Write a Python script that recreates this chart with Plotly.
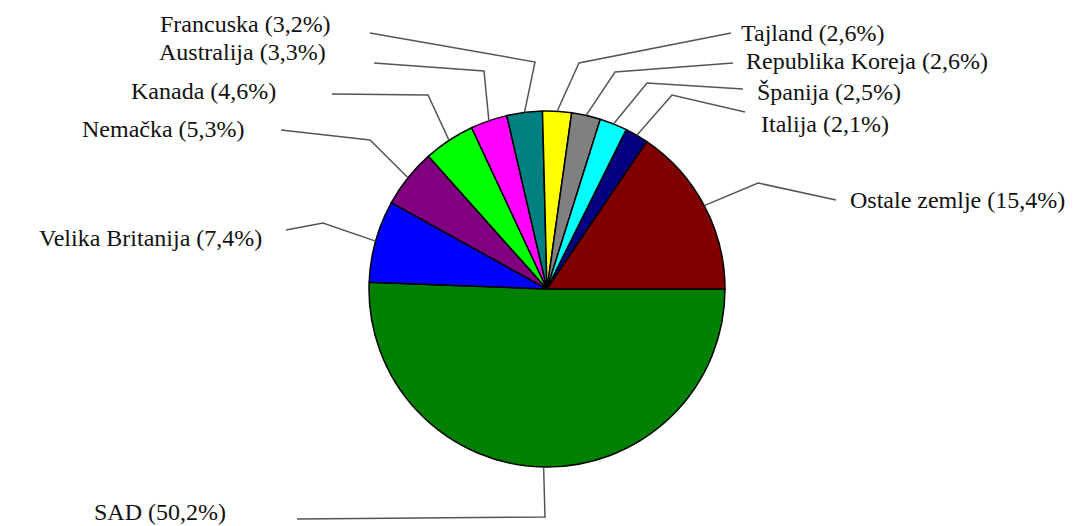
import math
import plotly.graph_objects as go

labels = ['SAD', 'Velika Britanija', 'Nemačka', 'Kanada', 'Australija', 'Francuska',
          'Tajland', 'Republika Koreja', 'Španija', 'Italija', 'Ostale zemlje']
shares = [50.2, 7.4, 5.3, 4.6, 3.3, 3.2, 2.6, 2.6, 2.5, 2.1, 15.4]
colors = ['#008000', '#0000FF', '#800080', '#00FF00', '#FF00FF', '#008080',
          '#FFFF00', '#808080', '#00FFFF', '#000080', '#800000']

W, H = 1091, 526
cx, cy, R = 547, 289, 178   # pie centre / radius in pixels
rot = 90                    # first slice starts at 3 o'clock

# leader line layout (pixels): elbow, line end, text anchor point, side
leaders = {
    'SAD':              ((545, 517), (297, 519), (228, 512), 'right'),
    'Velika Britanija': ((323, 223), (286, 230), (264, 238), 'right'),
    'Nemačka':          ((370, 140), (281, 130), (247, 129), 'right'),
    'Kanada':           ((428, 95), (332, 94), (278, 91), 'right'),
    'Australija':       ((484, 71), (374, 63), (328, 52), 'right'),
    'Francuska':        ((535, 62), (370, 33), (333, 24), 'right'),
    'Tajland':          ((579, 63), (731, 33), (739, 33), 'left'),
    'Republika Koreja': ((615, 72), (733, 63), (744, 61), 'left'),
    'Španija':          ((647, 83), (743, 89), (755, 92), 'left'),
    'Italija':          ((672, 95), (745, 112), (759, 124), 'left'),
    'Ostale zemlje':    ((758, 183), (836, 200), (848, 200), 'left'),
}


def px(x, y):
    return x / W, 1 - y / H


fig = go.Figure(go.Pie(
    labels=labels, values=shares, sort=False, direction='clockwise', rotation=rot,
    marker=dict(colors=colors, line=dict(color='black', width=1.5)),
    textinfo='none', hoverinfo='skip', showlegend=False,
    domain=dict(x=[(cx - R) / W, (cx + R) / W], y=[1 - (cy + R) / H, 1 - (cy - R) / H]),
))

total = sum(shares)
cum = 0
shapes, annotations = [], []
for lab, val in zip(labels, shares):
    mid = math.radians(rot + (cum + val / 2) / total * 360)
    cum += val
    sx, sy = cx + R * math.sin(mid), cy - R * math.cos(mid)
    (ex, ey), (lx, ly), (tx, ty), side = leaders[lab]
    p0, p1, p2 = px(sx, sy), px(ex, ey), px(lx, ly)
    shapes.append(dict(type='path', xref='paper', yref='paper',
                       path=f'M {p0[0]},{p0[1]} L {p1[0]},{p1[1]} L {p2[0]},{p2[1]}',
                       line=dict(color='#555555', width=1.5)))
    t = px(tx, ty)
    annotations.append(dict(x=t[0], y=t[1], xref='paper', yref='paper', showarrow=False,
                            xanchor=side, yanchor='middle',
                            text=f"{lab} ({str(val).replace('.', ',')}%)",
                            font=dict(family='Liberation Serif, Times New Roman, serif',
                                      size=24, color='#111111')))

fig.update_layout(
    width=W, height=H, autosize=False,
    margin=dict(l=0, r=0, t=0, b=0),
    paper_bgcolor='white', plot_bgcolor='white',
    shapes=shapes, annotations=annotations,
)

# drop the default page margin so the figure fills the window exactly
fig.write_html("out.html", config=dict(displayModeBar=False),
               post_script="document.body.style.margin='0';document.body.style.overflow='hidden';")
